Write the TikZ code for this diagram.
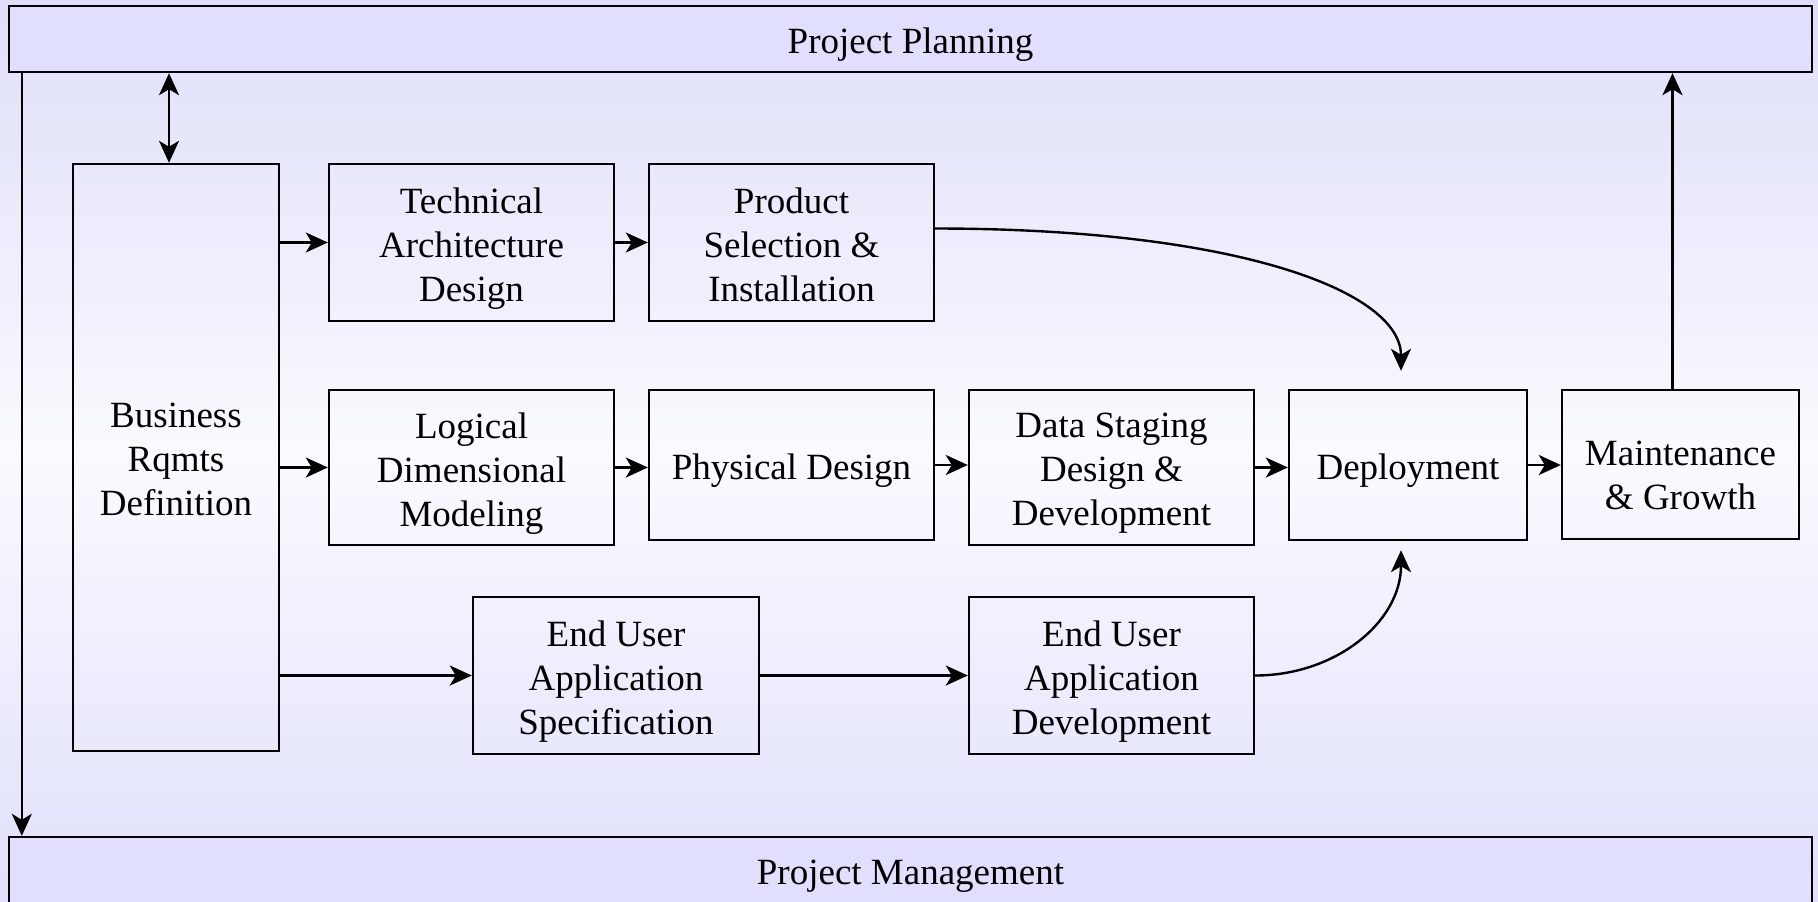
\documentclass[tikz,border=0pt]{standalone}
\usepackage{fontspec}
\setmainfont{Liberation Serif}
\usetikzlibrary{arrows.meta}
\definecolor{bandfill}{RGB}{224,224,254}
\definecolor{bgtop}{RGB}{222,222,250}
\definecolor{bgmid}{RGB}{250,250,255}
\definecolor{bgbot}{RGB}{224,224,252}
\tikzset{
  box/.style={draw=black, line width=1.2pt, inner sep=0pt},
  boxtext/.style={align=center, yshift=-3pt, inner sep=0pt,
    font=\fontsize{18.5pt}{22pt}\selectfont,
    execute at begin node={\strut}, execute at end node={\strut}},
  mline/.style={boxtext, yshift=-1.2pt},
  band/.style={box, fill=bandfill},
  arr/.style={line width=1.2pt, -{Stealth[length=11pt,width=10pt,inset=3pt]}},
  darr/.style={line width=1.2pt, {Stealth[length=11pt,width=10pt,inset=3pt]}-{Stealth[length=11pt,width=10pt,inset=3pt]}},
}
\begin{document}
\begin{tikzpicture}[x=0.5pt,y=-0.5pt]
\useasboundingbox (0,0) rectangle (1818,901);
\clip (0,0) rectangle (1818,901);
\shade[top color=bgtop, bottom color=bgbot, middle color=bgmid] (0,0) rectangle (1818,901);

\node[band, minimum width=901.5pt, minimum height=33pt, label={[boxtext]center:Project Planning}] (plan) at (910.5,39) {};
\node[band, minimum width=901.5pt, minimum height=33pt, label={[boxtext]center:Project Management}] (mgmt) at (910.5,870) {};

\node[box, minimum width=103pt, minimum height=293.5pt, label={[mline]center:{Business\\Rqmts\\Definition}}] (biz) at (176,457.5) {};
\node[box, minimum width=142.5pt, minimum height=78.5pt, label={[mline]center:{Technical\\Architecture\\Design}}] (tech) at (471.5,242.5) {};
\node[box, minimum width=142.5pt, minimum height=78.5pt, label={[mline]center:{Product\\Selection \&\\Installation}}] (prod) at (791.5,242.5) {};
\node[box, minimum width=142.5pt, minimum height=77.5pt, label={[mline]center:{Logical\\Dimensional\\Modeling}}] (logi) at (471.5,467.5) {};
\node[box, minimum width=142.5pt, minimum height=75pt, label={[boxtext]center:{Physical Design}}] (phys) at (791.5,465) {};
\node[box, minimum width=142.5pt, minimum height=77.5pt, label={[mline]center:{Data Staging\\Design \&\\Development}}] (stag) at (1111.5,467.5) {};
\node[box, minimum width=119pt, minimum height=75pt, label={[boxtext]center:{Deployment}}] (depl) at (1408,465) {};
\node[box, minimum width=118.5pt, minimum height=74.5pt, label={[boxtext, yshift=-5.7pt]center:{Maintenance\\\& Growth}}] (main) at (1680.5,464.5) {};
\node[box, minimum width=143pt, minimum height=78.5pt, label={[mline]center:{End User\\Application\\Specification}}] (eus) at (616,675.5) {};
\node[box, minimum width=142.5pt, minimum height=78.5pt, label={[mline]center:{End User\\Application\\Development}}] (eud) at (1111.5,675.5) {};

% planning -> management
\draw[arr] ([xshift=7pt]plan.south west) -- ([xshift=7pt]plan.south west |- mgmt.north);
% planning <-> business
\draw[darr] ([xshift=-3.5pt]biz.north) -- ([xshift=-3.5pt]biz.north |- plan.south);
% business -> rows
\draw[arr] (biz.east |- tech.west) -- (tech.west);
\draw[arr] (biz.east |- logi.west) -- (logi.west);
\draw[arr] (biz.east |- eus.west) -- (eus.west);
% row 1
\draw[arr] (tech.east) -- (tech.east -| prod.west);
\coordinate (dtop) at ([xshift=-3.5pt,yshift=9pt]depl.north);
\draw[arr] ([yshift=7pt]prod.east) .. controls ++(300,0) and ([yshift=40pt]dtop) .. (dtop);
% row 2
\draw[arr] (logi.east) -- (logi.east -| phys.west);
\draw[arr] (phys.east) -- (phys.east -| stag.west);
\draw[arr] (stag.east) -- (stag.east -| depl.west);
\draw[arr] (depl.east) -- (depl.east -| main.west);
\draw[arr] ([xshift=-4pt]main.north) -- ([xshift=-4pt]main.north |- plan.south);
% row 3
\draw[arr] (eus.east) -- (eus.east -| eud.west);
\coordinate (dbot) at ([xshift=-3.5pt,yshift=-4.5pt]depl.south);
\draw[arr] (eud.east) .. controls ++(80,0) and ([yshift=-36pt]dbot) .. (dbot);
\end{tikzpicture}
\end{document}
